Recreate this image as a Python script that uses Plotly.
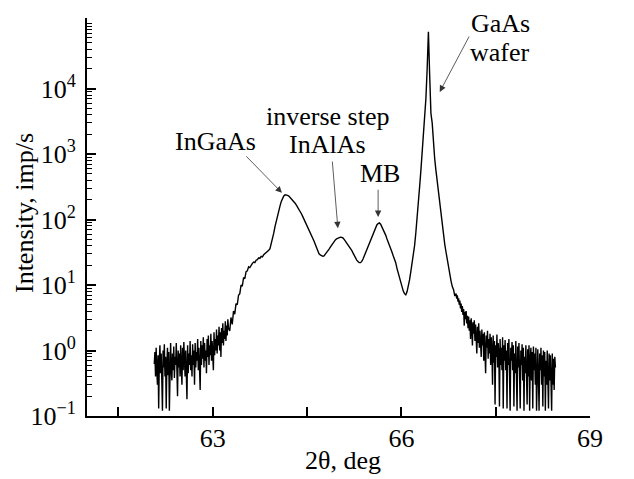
import plotly.graph_objects as go

# ---- data ----
# low-angle noisy background, sampled every 0.01 deg
noise_left_start = 62.07
noise_left_step = 0.01
noise_left = [
    0.62, 0.95, 0.4, 1.1, 0.5, 0.3, 0.85, 0.13, 0.7, 1.2,      # 62.07-62.16
    0.45, 0.9, 0.35, 0.12, 1.0, 0.55, 1.25, 0.4, 0.8, 0.13,    # 62.17-62.26
    0.6, 1.1, 0.42, 0.95, 0.12, 0.7, 1.3, 0.5, 0.35, 0.9,      # 62.27-62.36
    0.5, 1.15, 0.38, 0.8, 0.6, 1.3, 0.45, 0.2, 1.0, 0.55,      # 62.37-62.46
    0.9, 0.4, 1.2, 0.65, 0.3, 1.1, 0.5, 1.35, 0.6, 0.4,        # 62.47-62.56
    1.0, 0.55, 0.18, 1.2, 0.45, 0.9, 0.6, 1.4, 0.5, 0.85,      # 62.57-62.66
    0.4, 1.25, 0.6, 1.0, 0.3, 1.3, 0.55, 0.95, 0.7, 1.5,       # 62.67-62.76
    0.5, 1.1, 0.65, 0.25, 1.4, 0.6, 1.2, 0.75, 1.6, 0.55,      # 62.77-62.86
    1.3, 0.7, 1.0, 0.45, 1.5, 0.8, 1.7, 0.6, 1.2, 0.85,        # 62.87-62.96
    1.8, 0.7, 1.4, 0.95, 0.5, 1.9, 0.85, 1.5, 1.0, 2.1,        # 62.97-63.06
    0.9, 1.7, 1.2, 2.3, 1.0, 1.9, 0.8, 2.2, 1.3, 2.6,          # 63.07-63.16
    1.2, 2.0, 1.5, 2.8, 1.4, 2.4, 1.7, 3.0, 2.2,               # 63.17-63.25
]

# layer peaks and substrate peak, sampled every 0.02 deg
peaks_start = 63.27
peaks_step = 0.02
peaks = [
    2.0, 3.2, 2.5, 4.0, 3.6, 5.2, 5.0, 7.0, 7.4, 10,               # 63.27-63.45
    9.6, 13, 12.5, 16, 16.5, 19, 18.5, 20.5, 21.5, 22.5,           # 63.47-63.65
    22, 24, 24.5, 26, 25.5, 27.5, 27, 29, 30, 31.5,                # 63.67-63.85
    32, 34, 36, 42, 50, 62, 78, 96, 114, 138,                      # 63.87-64.05
    162, 190, 212, 230, 240, 240, 234, 229, 219, 209,              # 64.07-64.25
    200, 186, 178, 166, 155, 141, 132, 123, 112, 102,              # 64.27-64.45
    93, 85, 78, 71, 65, 59, 52, 47, 42, 37,                        # 64.47-64.65
    33, 30, 29, 28, 27.5, 28, 29.5, 31, 33, 35.5,                  # 64.67-64.85
    38, 41, 44, 47, 49, 51, 52.5, 53.5, 54, 53.5,                  # 64.87-65.05
    52.5, 50, 47, 44, 41, 39, 37, 34, 31, 28,                      # 65.07-65.25
    26, 24, 23, 22, 22, 23, 25, 28, 32, 35.5,                      # 65.27-65.45
    40, 45, 50, 56, 63, 71, 78, 83, 87, 89,                        # 65.47-65.65
    85, 78, 71, 65, 58, 51, 46, 41, 36, 32,                        # 65.67-65.85
    28, 25, 22, 18, 15, 12.5, 11, 9.3, 8.1, 7.4,                   # 65.87-66.05
    7.1, 7.9, 9.5, 12, 16, 21, 28, 40, 63, 100,                    # 66.07-66.25
    178, 316, 560, 1000, 1780, 3400, 7100, 20000, 74000, 16000,    # 66.27-66.45
    4200, 3000, 1400, 850, 560, 380, 250, 170, 115, 80,            # 66.47-66.65
    57, 42, 32, 24, 18, 14, 11.5, 9.5, 8.5, 6.8,                   # 66.67-66.85
]

# high-angle noisy tail, sampled every 0.01 deg
noise_right_start = 66.87
noise_right_step = 0.01
noise_right = [
    7.4, 6.2, 7.0, 5.6, 6.3, 5.0, 5.8, 4.4, 5.2, 3.9,          # 66.87-66.96
    4.8, 3.5, 4.3, 2.4, 3.9, 3.0, 4.0, 2.6, 3.4, 2.2,          # 66.97-67.06
    3.3, 2.0, 2.9, 1.5, 3.1, 2.2, 1.2, 2.7, 1.8, 2.9,          # 67.07-67.16
    1.4, 2.5, 1.7, 0.9, 2.3, 1.3, 2.6, 1.1, 2.0, 1.5,          # 67.17-67.26
    0.8, 2.1, 1.2, 1.8, 0.7, 1.9, 1.0, 0.45, 1.7, 1.1,         # 67.27-67.36
    2.0, 0.75, 1.5, 0.9, 1.8, 0.6, 1.6, 1.0, 0.3, 1.7,         # 67.37-67.46
    0.65, 1.4, 0.15, 1.2, 0.8, 1.75, 0.55, 1.3, 0.9, 0.14,     # 67.47-67.56
    1.5, 0.6, 1.1, 0.5, 1.6, 0.13, 1.2, 0.7, 1.45, 0.5,        # 67.57-67.66
    1.0, 0.13, 1.3, 0.6, 1.5, 0.45, 0.12, 1.1, 0.7, 1.35,      # 67.67-67.76
    0.5, 1.2, 0.14, 0.9, 0.45, 1.4, 0.6, 0.12, 1.15, 0.55,     # 67.77-67.86
    1.3, 0.4, 0.13, 1.0, 0.6, 1.25, 0.35, 1.1, 0.12, 0.8,      # 67.87-67.96
    0.45, 1.2, 0.55, 0.15, 1.05, 0.4, 1.2, 0.12, 0.7, 1.1,     # 67.97-68.06
    0.35, 0.95, 0.13, 1.15, 0.5, 0.9, 0.3, 1.1, 0.12, 0.75,    # 68.07-68.16
    1.05, 0.38, 0.12, 0.9, 0.5, 1.1, 0.3, 0.85, 0.14, 1.0,     # 68.17-68.26
    0.4, 0.95, 0.12, 0.7, 0.3, 1.0, 0.45, 0.13, 0.9, 0.35,     # 68.27-68.36
    0.85, 0.28, 0.12, 0.9, 0.3, 0.75, 0.25, 0.8, 0.55,         # 68.37-68.45
]

x_tick_vals = [63, 66, 69]
x_tick_text = ["63", "66", "69"]
x_minor_vals = [61.5, 64.5, 67.5]
y_tick_vals = [0.1, 1, 10, 100, 1000, 10000]
y_tick_text = ["10<sup>−1</sup>", "10<sup>0</sup>", "10<sup>1</sup>",
               "10<sup>2</sup>", "10<sup>3</sup>", "10<sup>4</sup>"]
x_title = "2θ, deg"
y_title = "Intensity, imp/s"

# labels: (text, x, log10 y)
labels = [
    ("InGaAs", 63.05, 3.20),
    ("inverse step", 64.83, 3.57),
    ("InAlAs", 64.83, 3.14),
    ("MB", 65.66, 2.70),
    ("GaAs", 67.57, 4.99),
    ("wafer", 67.57, 4.56),
]
# arrows: (tail x, tail log10 y, tip x, tip log10 y)
arrows = [
    (63.51, 2.99, 64.10, 2.41),
    (64.90, 2.91, 64.99, 1.87),
    (65.63, 2.48, 65.63, 2.04),
    (67.09, 4.82, 66.61, 3.95),
]

# assemble the curve from the segments
two_theta, intensity = [], []
for start, step, vals in [(noise_left_start, noise_left_step, noise_left),
                          (peaks_start, peaks_step, peaks),
                          (noise_right_start, noise_right_step, noise_right)]:
    two_theta += [round(start + step * i, 3) for i in range(len(vals))]
    intensity += vals

FONT = "Liberation Serif, Times New Roman, serif"

fig = go.Figure()
fig.add_trace(go.Scatter(x=two_theta, y=intensity, mode="lines",
                         line=dict(color="black", width=1.4),
                         showlegend=False, hoverinfo="skip"))

minor_vals = [m * 10 ** e for e in range(-1, 5) for m in range(2, 10)] + [1e5]

# the page body adds an 8 px margin, so the figure is 8 px smaller than the window
fig.update_layout(
    width=626, height=471,
    margin=dict(l=79, r=44, t=10, b=63),
    paper_bgcolor="white", plot_bgcolor="white",
    font=dict(family=FONT, size=26, color="black"),
    xaxis=dict(range=[61, 69], tickvals=x_tick_vals, ticktext=x_tick_text,
               ticks="inside", ticklen=9, tickwidth=1.5, tickcolor="black",
               minor=dict(tickvals=x_minor_vals, ticks="inside", ticklen=9,
                          tickwidth=1.5, tickcolor="black", showgrid=False),
               showline=True, linewidth=2, linecolor="black",
               showgrid=False, zeroline=False, automargin=False,
               ticklabelstandoff=-2,
               tickfont=dict(family=FONT, size=26)),
    yaxis=dict(type="log", range=[-1, 5.08], tickvals=y_tick_vals, ticktext=y_tick_text,
               ticks="inside", ticklen=9, tickwidth=1.5, tickcolor="black",
               minor=dict(tickvals=minor_vals, ticks="inside", ticklen=5,
                          tickwidth=1, tickcolor="black", showgrid=False),
               showline=True, linewidth=2, linecolor="black",
               showgrid=False, zeroline=False, automargin=False,
               ticklabelstandoff=4,
               tickfont=dict(family=FONT, size=26)),
)

# axis titles
fig.add_annotation(x=0.509, y=0, xref="paper", yref="paper", yshift=-44,
                   text=x_title, showarrow=False, xanchor="center", yanchor="middle",
                   font=dict(family=FONT, size=26, color="black"))
fig.add_annotation(x=0, y=0.51, xref="paper", yref="paper", xshift=-63,
                   text=y_title, showarrow=False, textangle=-90,
                   xanchor="center", yanchor="middle",
                   font=dict(family=FONT, size=26, color="black"))

for text, lx, ly in labels:
    fig.add_annotation(x=lx, y=ly, xref="x", yref="y", text=text, showarrow=False,
                       font=dict(family=FONT, size=26, color="black"),
                       xanchor="center", yanchor="middle")

for tx, ty, hx, hy in arrows:
    fig.add_annotation(x=hx, y=hy, xref="x", yref="y", ax=tx, ay=ty,
                       axref="x", ayref="y", text="", showarrow=True,
                       arrowhead=2, arrowsize=1.6, arrowwidth=0.8,
                       arrowcolor="#333333", standoff=0)

fig.write_html("out.html")
